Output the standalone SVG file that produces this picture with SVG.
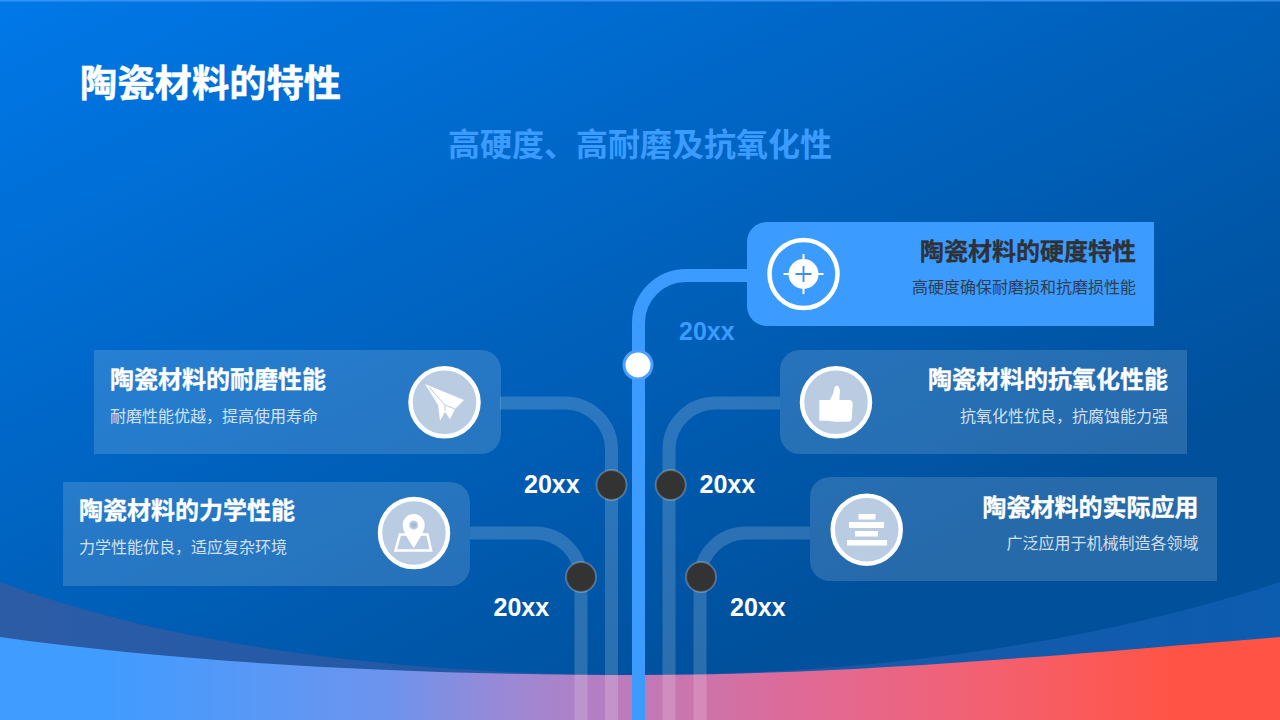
<svg xmlns="http://www.w3.org/2000/svg" width="1280" height="720" viewBox="0 0 1280 720">
<defs>
<linearGradient id="bg" gradientUnits="userSpaceOnUse" x1="0" y1="0" x2="427" y2="836"><stop offset="0" stop-color="#0078e8"/><stop offset="1" stop-color="#00509b"/></linearGradient>
<linearGradient id="wave" x1="0" y1="0" x2="1" y2="0"><stop offset="0.08" stop-color="#409cff"/><stop offset="0.3" stop-color="#6c94ee"/><stop offset="0.4" stop-color="#9c88d4"/><stop offset="0.5" stop-color="#c07ab8"/><stop offset="0.62" stop-color="#df6a98"/><stop offset="0.78" stop-color="#f4606e"/><stop offset="0.92" stop-color="#ff5445"/></linearGradient>
<linearGradient id="back" x1="0" y1="0" x2="1" y2="0"><stop offset="0" stop-color="#2d5ca6"/><stop offset="0.5" stop-color="#1c58a6"/><stop offset="1" stop-color="#0c5cb0"/></linearGradient>
</defs>
<style>
text{font-family:"Noto Sans CJK SC","Liberation Sans",sans-serif}
.h{font-size:24px;font-weight:700;fill:#fff;stroke:#fff;stroke-width:.3}
.s{font-size:16px;fill:#fff;fill-opacity:.8}
.y{font-family:"Liberation Sans",Arial,sans-serif;font-size:25px;font-weight:700;fill:#fff}
.card{fill:#fff;fill-opacity:.15}
.ring{fill:#bacce2;stroke:#fff;stroke-width:4.500}
.ln{fill:none;stroke:#fff;stroke-opacity:.17;stroke-width:13}
.dot{fill:#333;stroke:#fff;stroke-opacity:.25;stroke-width:2}
.i{fill:#fff}
</style>
<rect width="1280" height="720" fill="url(#bg)"/>
<rect width="1280" height="1.500" fill="#4a9fff" fill-opacity=".7"/>
<path d="M0 582C180 650 420 675 640 675C860 675 1090 645 1280 582V720H0Z" fill="url(#back)"/>
<path d="M0 637C200 665 430 675 640 675C860 675 1090 652 1280 637V720H0Z" fill="url(#wave)"/>
<text x="80" y="97" font-size="37.300" font-weight="700" fill="#fff" stroke="#fff" stroke-width=".5">陶瓷材料的特性</text>
<text x="640" y="156" font-size="32" font-weight="700" fill="#3b9bff" text-anchor="middle">高硬度、高耐磨及抗氧化性</text>
<g id="connectors">
<path class="ln" d="M500 403H565A46.500 46.500 0 0 1 611.500 449.500V720"/>
<path class="ln" d="M470 533H535A46 46 0 0 1 581 579V720"/>
<path class="ln" d="M780 403H715.500A46.500 46.500 0 0 0 669 449.500V720"/>
<path class="ln" d="M810 533H746A46 46 0 0 0 700 579V720"/>
<path d="M748 275.500H686A47.500 47.500 0 0 0 638.500 323V720" fill="none" stroke="#3b9bff" stroke-width="13"/>
</g>
<g id="node-top">
<path d="M767 222H1154V326H767A20 20 0 0 1 747 306V242A20 20 0 0 1 767 222Z" fill="#3b9bff"/>
<circle cx="803.500" cy="274" r="34" fill="none" stroke="#fff" stroke-width="4.500"/>
<circle cx="803.500" cy="274" r="15" class="i"/>
<path d="M803.500 254V294M783.500 274H823.500" stroke="#fff" stroke-width="2"/>
<path d="M803.500 266V282M795.500 274H811.500" stroke="#3b8fe6" stroke-width="1.800"/>
<text class="h" x="1136" y="260" text-anchor="end" style="fill:#2e3136;stroke:#2e3136">陶瓷材料的硬度特性</text>
<text class="s" x="1136" y="293" text-anchor="end" style="fill:#2f3d50;fill-opacity:1">高硬度确保耐磨损和抗磨损性能</text>
</g>
<g id="node-left1">
<path class="card" d="M94 350H481A20 20 0 0 1 501 370V434A20 20 0 0 1 481 454H94Z"/>
<circle class="ring" cx="444.500" cy="402.300" r="34"/>
<path class="i" d="M425 384L464 400L455 409L450 419.300L445 411.700L440 420.700L438 405Z"/>
<path d="M429 387L445 405V411M445 405L455 409" fill="none" stroke="#bacce2" stroke-width="1"/>
<text class="h" x="110" y="388">陶瓷材料的耐磨性能</text>
<text class="s" x="110" y="422">耐磨性能优越，提高使用寿命</text>
</g>
<g id="node-left2">
<path class="card" d="M63 482H450A20 20 0 0 1 470 502V566A20 20 0 0 1 450 586H63Z"/>
<circle class="ring" cx="414" cy="533" r="34"/>
<path d="M400 534.500H427.500L431 550.500H395.500Z" fill="none" stroke="#fff" stroke-width="2.500"/>
<path class="i" fill-rule="evenodd" d="M413.700 514A11 11 0 0 1 424.700 525C424.700 532 418 541 413.700 548C409.400 541 402.700 532 402.700 525A11 11 0 0 1 413.700 514ZM413.700 520.500A4.500 4.500 0 1 0 413.700 529.500A4.500 4.500 0 1 0 413.700 520.500Z"/>
<circle cx="413.700" cy="525" r="2.500" fill="#9fb8d8"/>
<text class="h" x="79" y="519">陶瓷材料的力学性能</text>
<text class="s" x="79" y="553">力学性能优良，适应复杂环境</text>
</g>
<g id="node-right1">
<path class="card" d="M800 350H1187V454H800A20 20 0 0 1 780 434V370A20 20 0 0 1 800 350Z"/>
<circle class="ring" cx="836" cy="402.300" r="34"/>
<path class="i" d="M819.300 400H830L833.300 393L834.700 387Q836.500 385 838.300 386L840 390L839.300 400H850Q852.700 400.700 852.700 403.300L851.700 419Q851 421.700 848 421.700H835L828 420.700H819.300Z"/>
<text class="h" x="1168" y="388" text-anchor="end">陶瓷材料的抗氧化性能</text>
<text class="s" x="1168" y="422" text-anchor="end">抗氧化性优良，抗腐蚀能力强</text>
</g>
<g id="node-right2">
<path class="card" d="M830 477H1217V581H830A20 20 0 0 1 810 561V497A20 20 0 0 1 830 477Z"/>
<circle class="ring" cx="866.700" cy="529.700" r="34"/>
<rect class="i" x="858.500" y="514" width="17" height="5.500"/>
<rect class="i" x="849" y="522" width="35" height="6"/>
<rect class="i" x="855" y="531" width="23" height="5.500"/>
<rect class="i" x="847" y="540" width="40" height="5.500"/>
<text class="h" x="1198.500" y="516" text-anchor="end">陶瓷材料的实际应用</text>
<text class="s" x="1198.500" y="549" text-anchor="end">广泛应用于机械制造各领域</text>
</g>
<g id="milestones">
<circle cx="638" cy="365" r="14" fill="#fff" stroke="#4a9fff" stroke-width="3"/>
<circle class="dot" cx="611.500" cy="485" r="15"/>
<circle class="dot" cx="670.700" cy="485" r="15"/>
<circle class="dot" cx="581" cy="577" r="15"/>
<circle class="dot" cx="701" cy="577" r="15"/>
<text class="y" x="679" y="340" style="fill:#3b9bff">20xx</text>
<text class="y" x="524" y="493">20xx</text>
<text class="y" x="699.500" y="493">20xx</text>
<text class="y" x="493.500" y="616">20xx</text>
<text class="y" x="730" y="616">20xx</text>
</g>
</svg>
